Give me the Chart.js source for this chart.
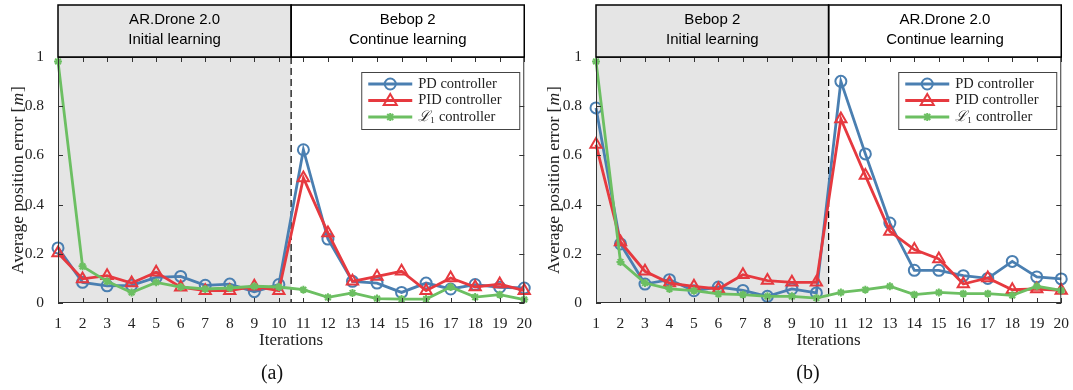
<!DOCTYPE html>
<html>
<head>
<meta charset="utf-8">
<script src="https://cdn.jsdelivr.net/npm/chart.js@4.4.1/dist/chart.umd.min.js"></script>
<style>
body { margin: 0; background: #fff; }
#wrap { position: relative; width: 1073px; height: 390px; }
canvas { position: absolute; top: 0; }
</style>
</head>
<body>
<div id="wrap">
  <canvas id="chartA" width="536" height="390" style="left:0"></canvas>
  <canvas id="chartB" width="537" height="390" style="left:536px"></canvas>
</div>
<script>
// iteraciones (eje x)
const iterations = [1, 2, 3, 4, 5, 6, 7, 8, 9, 10, 11, 12, 13, 14, 15, 16, 17, 18, 19, 20];
const seriesNames = ['PD controller', 'PID controller', 'ℒ₁ controller'];

// (a) AR.Drone 2.0 -> Bebop 2
const pdA  = [0.224, 0.084, 0.070, 0.072, 0.104, 0.108, 0.072, 0.077, 0.046, 0.075, 0.623, 0.260, 0.088, 0.081, 0.043, 0.081, 0.057, 0.075, 0.064, 0.061];
const pidA = [0.203, 0.098, 0.111, 0.081, 0.125, 0.064, 0.050, 0.050, 0.068, 0.050, 0.508, 0.285, 0.088, 0.108, 0.129, 0.050, 0.102, 0.065, 0.077, 0.050];
const l1A  = [0.982, 0.149, 0.088, 0.043, 0.084, 0.065, 0.057, 0.061, 0.068, 0.065, 0.054, 0.023, 0.041, 0.018, 0.016, 0.016, 0.065, 0.024, 0.034, 0.014];

// (b) Bebop 2 -> AR.Drone 2.0
const pdB  = [0.793, 0.240, 0.077, 0.095, 0.050, 0.065, 0.051, 0.027, 0.057, 0.041, 0.901, 0.606, 0.325, 0.133, 0.133, 0.111, 0.100, 0.169, 0.106, 0.098];
const pidB = [0.644, 0.248, 0.129, 0.081, 0.068, 0.057, 0.115, 0.091, 0.084, 0.084, 0.748, 0.518, 0.291, 0.217, 0.179, 0.077, 0.102, 0.054, 0.057, 0.051];
const l1B  = [0.982, 0.167, 0.081, 0.057, 0.050, 0.037, 0.034, 0.027, 0.027, 0.020, 0.043, 0.054, 0.068, 0.034, 0.043, 0.038, 0.038, 0.031, 0.068, 0.051];

const colors = ['#4a7fb1', '#e6393f', '#6cbf62'];
const styles = ['circle', 'triangle', 'star'];
const SERIF = '"Liberation Serif", "DejaVu Serif", serif';
const SANS = '"Liberation Sans", Arial, sans-serif';

function toPoints(values) {
    return iterations.map((it, i) => ({ x: it, y: values[i] }));
}

function drawMarker(ctx, style, x, y, color) {
    ctx.save();
    ctx.strokeStyle = color;
    ctx.lineWidth = 2;
    ctx.beginPath();
    if (style === 'circle') {
        ctx.arc(x, y, 5.5, 0, Math.PI * 2);
    } else if (style === 'triangle') {
        ctx.moveTo(x, y - 6.5);
        ctx.lineTo(x + 6.5, y + 4.5);
        ctx.lineTo(x - 6.5, y + 4.5);
        ctx.closePath();
    } else {
        ctx.moveTo(x - 3, y - 3); ctx.lineTo(x + 3, y + 3);
        ctx.moveTo(x + 3, y - 3); ctx.lineTo(x - 3, y + 3);
        ctx.moveTo(x, y - 4); ctx.lineTo(x, y + 4);
    }
    ctx.stroke();
    ctx.restore();
}

// Dibuja sombreado, cabecera, marco, leyenda y textos extra
const decor = {
    id: 'decor',
    beforeDatasetsDraw(chart, args, opts) {
        const { ctx, chartArea: a, scales: { x } } = chart;
        const split = x.getPixelForValue(10.5);
        ctx.save();
        ctx.fillStyle = '#e5e5e5';
        ctx.fillRect(a.left, a.top, split - a.left, a.bottom - a.top);
        ctx.strokeStyle = '#000';
        ctx.lineWidth = 1.2;
        ctx.setLineDash([7, 4]);
        ctx.beginPath();
        ctx.moveTo(split, a.top);
        ctx.lineTo(split, a.bottom);
        ctx.stroke();
        ctx.restore();
    },
    afterDraw(chart, args, opts) {
        const { ctx, chartArea: a, scales: { x, y } } = chart;
        const split = x.getPixelForValue(10.5);
        ctx.save();

        // marco y ticks hacia dentro
        ctx.strokeStyle = '#333';
        ctx.lineWidth = 1;
        ctx.strokeRect(a.left + 0.5, a.top + 0.5, a.right - a.left - 1, a.bottom - a.top - 1);
        ctx.beginPath();
        x.ticks.forEach(t => {
            const px = Math.round(x.getPixelForValue(t.value)) + 0.5;
            ctx.moveTo(px, a.bottom); ctx.lineTo(px, a.bottom - 5);
            ctx.moveTo(px, a.top); ctx.lineTo(px, a.top + 5);
        });
        y.ticks.forEach(t => {
            const py = Math.round(y.getPixelForValue(t.value)) + 0.5;
            ctx.moveTo(a.left, py); ctx.lineTo(a.left + 5, py);
            ctx.moveTo(a.right, py); ctx.lineTo(a.right - 5, py);
        });
        ctx.stroke();

        // cabecera
        const top = 5, h = a.top - top;
        ctx.fillStyle = '#e5e5e5';
        ctx.fillRect(a.left, top, split - a.left, h);
        ctx.fillStyle = '#fff';
        ctx.fillRect(split, top, a.right - split, h);
        ctx.strokeStyle = '#000';
        ctx.lineWidth = 1.5;
        ctx.strokeRect(a.left, top, split - a.left, h);
        ctx.strokeRect(split, top, a.right - split, h);
        ctx.fillStyle = '#000';
        ctx.font = '15px ' + SANS;
        ctx.textAlign = 'center';
        ctx.textBaseline = 'middle';
        const cl = (a.left + split) / 2, cr = (split + a.right) / 2;
        ctx.fillText(opts.header[0][0], cl, 20);
        ctx.fillText(opts.header[0][1], cl, 40);
        ctx.fillText(opts.header[1][0], cr, 20);
        ctx.fillText(opts.header[1][1], cr, 40);

        // leyenda
        const bw = 158, bh = 57;
        const bx = a.right - 5 - bw, by = a.top + 15;
        ctx.fillStyle = '#fff';
        ctx.fillRect(bx, by, bw, bh);
        ctx.strokeStyle = '#444';
        ctx.lineWidth = 1;
        ctx.strokeRect(bx + 0.5, by + 0.5, bw, bh);
        ctx.textAlign = 'left';
        ctx.font = '14.5px ' + SERIF;
        seriesNames.forEach((name, i) => {
            const ry = by + 12 + i * 16.5;
            ctx.strokeStyle = colors[i];
            ctx.lineWidth = 2.8;
            ctx.beginPath();
            ctx.moveTo(bx + 7, ry); ctx.lineTo(bx + 51, ry);
            ctx.stroke();
            drawMarker(ctx, styles[i], bx + 29, ry, colors[i]);
            ctx.fillStyle = '#222';
            if (i === 2) {
                ctx.font = 'italic 14.5px "DejaVu Serif", serif';
                ctx.fillText('ℒ', bx + 57, ry);
                const w = ctx.measureText('ℒ').width;
                ctx.font = '9px ' + SERIF;
                ctx.fillText('1', bx + 57 + w, ry + 4);
                ctx.font = '14.5px ' + SERIF;
                ctx.fillText(' controller', bx + 57 + w + 5, ry);
            } else {
                ctx.fillText(name, bx + 57, ry);
            }
        });

        // titulo eje y con m en cursiva
        ctx.save();
        ctx.translate(18, (a.top + a.bottom) / 2);
        ctx.rotate(-Math.PI / 2);
        ctx.fillStyle = '#222';
        const p1 = 'Average position error [', p2 = 'm', p3 = ']';
        ctx.font = '17.5px ' + SERIF;
        const w1 = ctx.measureText(p1).width, w3 = ctx.measureText(p3).width;
        ctx.font = 'italic 17.5px ' + SERIF;
        const w2 = ctx.measureText(p2).width;
        let sx = -(w1 + w2 + w3 + 2) / 2;
        ctx.font = '17.5px ' + SERIF;
        ctx.fillText(p1, sx, 0);
        ctx.font = 'italic 17.5px ' + SERIF;
        ctx.fillText(p2, sx + w1 + 1, 0);
        ctx.font = '17.5px ' + SERIF;
        ctx.fillText(p3, sx + w1 + w2 + 2, 0);
        ctx.restore();

        // leyenda (a) / (b)
        ctx.fillStyle = '#111';
        ctx.textAlign = 'center';
        ctx.font = '20px ' + SERIF;
        ctx.fillText(opts.caption, 272, 374);
        ctx.restore();
    }
};

function makeChart(id, pd, pid, l1, header, caption, axisWidth, padRight) {
    const ctx = document.getElementById(id).getContext('2d');
    const sets = [pd, pid, l1].map((vals, i) => ({
        label: seriesNames[i],
        data: toPoints(vals),
        borderColor: colors[i],
        backgroundColor: 'rgba(0,0,0,0)',
        borderWidth: 2.8,
        pointStyle: styles[i],
        pointRadius: i === 1 ? 6.5 : (i === 2 ? 4 : 5.5),
        pointBorderWidth: 2,
        pointBorderColor: colors[i],
        pointBackgroundColor: 'rgba(0,0,0,0)',
        tension: 0,
        clip: false,
        order: 2 - i
    }));
    return new Chart(ctx, {
        type: 'line',
        data: { datasets: sets },
        plugins: [decor],
        options: {
            responsive: false,
            animation: false,
            layout: { padding: { top: 57, right: padRight, bottom: 37, left: 0 } },
            plugins: {
                legend: { display: false },
                tooltip: { enabled: false },
                decor: { header: header, caption: caption }
            },
            scales: {
                x: {
                    type: 'linear',
                    min: 1,
                    max: 20,
                    grid: { display: false },
                    border: { display: false },
                    ticks: {
                        stepSize: 1,
                        autoSkip: false,
                        maxRotation: 0,
                        padding: 4,
                        color: '#222',
                        font: { family: SERIF, size: 15.5 }
                    },
                    title: {
                        display: true,
                        text: 'Iterations',
                        color: '#222',
                        font: { family: SERIF, size: 17 },
                        padding: { top: 2, bottom: 2 }
                    },
                    afterFit(scale) { scale.height = 50; }
                },
                y: {
                    min: 0,
                    max: 1,
                    grid: { display: false },
                    border: { display: false },
                    ticks: {
                        stepSize: 0.2,
                        padding: 6,
                        color: '#222',
                        font: { family: SERIF, size: 15.5 },
                        callback: v => (v === 0 || v === 1) ? String(v) : v.toFixed(1)
                    },
                    afterFit(scale) { scale.width = axisWidth; }
                }
            }
        }
    });
}

makeChart('chartA', pdA, pidA, l1A,
    [['AR.Drone 2.0', 'Initial learning'], ['Bebop 2', 'Continue learning']], '(a)', 58, 10);
makeChart('chartB', pdB, pidB, l1B,
    [['Bebop 2', 'Initial learning'], ['AR.Drone 2.0', 'Continue learning']], '(b)', 60, 9);
</script>
</body>
</html>
